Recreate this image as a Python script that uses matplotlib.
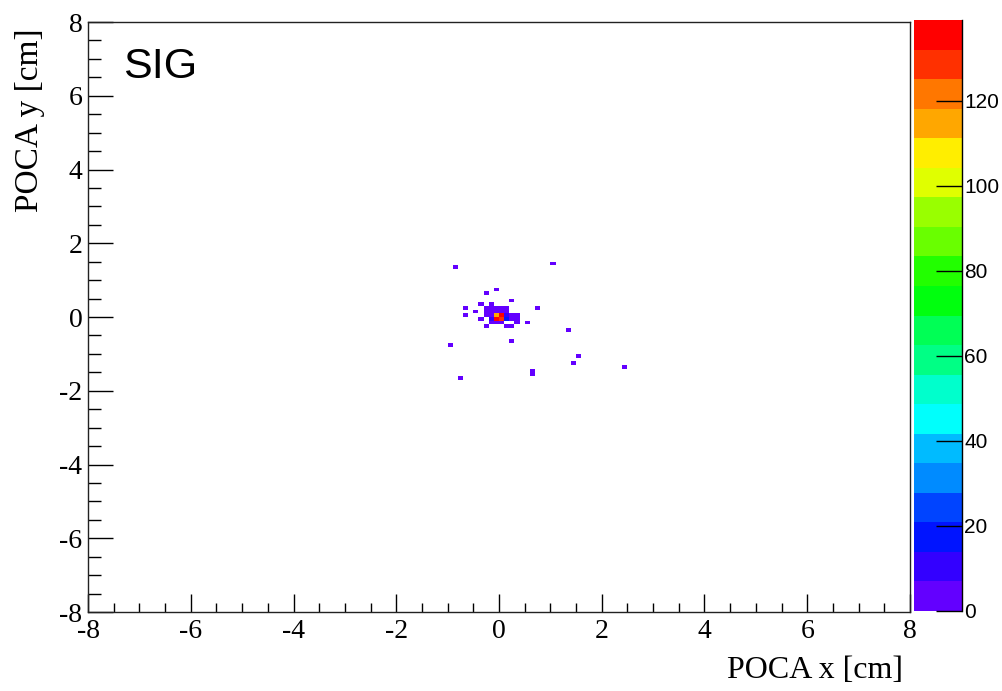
import colorsys
import numpy as np
import matplotlib
matplotlib.use("Agg")
import matplotlib.pyplot as plt
from matplotlib.colors import ListedColormap, BoundaryNorm
from matplotlib.ticker import MultipleLocator

# ---------------- data (bin centres in cm, bin contents) ----------------
x_centers = [
    # central cluster
    -0.25, -0.15, -0.05, 0.05, 0.15,
    -0.25, -0.15, -0.05, 0.05, 0.15,
    -0.25, -0.15, -0.05, 0.05, 0.15, 0.25, 0.35,
    -0.15, -0.05, 0.05, 0.15, 0.25, 0.35,
    -0.15, -0.05, 0.05, 0.35,
    0.15, 0.25,
    # scattered entries
    -0.85, 1.05, -0.25, -0.05, 0.25, -0.35, -0.15, -0.65, 0.75, -0.45,
    -0.65, -0.35, 0.55, -0.25, 0.25, 1.35, -0.95, 1.55, 1.45, 2.45,
    0.65, 0.65, -0.75,
]
y_centers = [
    0.25, 0.25, 0.25, 0.25, 0.25,
    0.15, 0.15, 0.15, 0.15, 0.15,
    0.05, 0.05, 0.05, 0.05, 0.05, 0.05, 0.05,
    -0.05, -0.05, -0.05, -0.05, -0.05, -0.05,
    -0.15, -0.15, -0.15, -0.15,
    -0.25, -0.25,
    1.35, 1.45, 0.65, 0.75, 0.45, 0.35, 0.35, 0.25, 0.25, 0.15,
    0.05, -0.05, -0.15, -0.25, -0.65, -0.35, -0.75, -1.05, -1.25, -1.35,
    -1.55, -1.45, -1.65,
]
counts = [
    3, 4, 5, 4, 2,
    2, 5, 6, 6, 4,
    3, 6, 115, 139, 10, 4, 2,
    12, 136, 130, 16, 5, 3,
    3, 5, 4, 2,
    2, 3,
    1, 1, 1, 2, 1, 2, 2, 1, 1, 2,
    1, 2, 1, 1, 1, 1, 1, 1, 1, 1,
    2, 1, 1,
]
x_range = (-8.0, 8.0)
y_range = (-8.0, 8.0)
n_bins = 160
z_max = 139.0
n_levels = 20
cbar_ticks = [0, 20, 40, 60, 80, 100, 120]
title_text = "SIG"
x_title = "POCA x [cm]"
y_title = "POCA y [cm]"

# ---------------- ROOT "pretty" palette (50 colours, HLS) ----------------
palette = []
for i in range(49):
    hue = 280.0 - (i + 1) * (280.0 / 50.0)
    palette.append(colorsys.hls_to_rgb(hue / 360.0, 0.5, 1.0))
palette.append((1.0, 0.0, 0.0))
level_colors = [palette[int((k + 0.99) * 50 / n_levels)] for k in range(n_levels)]
cmap = ListedColormap(level_colors)
cmap.set_over(level_colors[-1])
bounds = np.linspace(0.0, z_max, n_levels + 1)
norm = BoundaryNorm(bounds, cmap.N)

# ---------------- figure ----------------
plt.rcParams["axes.unicode_minus"] = False
W, H = 1003, 691
fig = plt.figure(figsize=(W / 100, H / 100), dpi=100)
ax = fig.add_axes([88 / W, 1 - 612 / H, 822 / W, 590 / H])
cax = fig.add_axes([914 / W, 1 - 611 / H, 48 / W, 591 / H])

xedges = np.linspace(x_range[0], x_range[1], n_bins + 1)
yedges = np.linspace(y_range[0], y_range[1], n_bins + 1)
hres = ax.hist2d(x_centers, y_centers, bins=[xedges, yedges], weights=counts,
                 cmin=0.5, cmap=cmap, norm=norm)

ax.set_xlim(*x_range)
ax.set_ylim(*y_range)
ax.xaxis.set_major_locator(MultipleLocator(2))
ax.xaxis.set_minor_locator(MultipleLocator(0.5))
ax.yaxis.set_major_locator(MultipleLocator(2))
ax.yaxis.set_minor_locator(MultipleLocator(0.5))
serif = "Liberation Serif"
ax.tick_params(axis="x", which="major", direction="in", length=13, width=1,
               pad=5, labelsize=20, top=False)
ax.tick_params(axis="x", which="minor", direction="in", length=6.5, width=1,
               top=False)
ax.tick_params(axis="y", which="major", direction="in", length=18, width=1,
               pad=4, labelsize=20, right=False)
ax.tick_params(axis="y", which="minor", direction="in", length=9, width=1,
               right=False)
for lab in ax.get_xticklabels() + ax.get_yticklabels():
    lab.set_fontfamily(serif)
for sp in ax.spines.values():
    sp.set_linewidth(1.0)
    sp.set_color("#222222")

fig.text(123 / W, 1 - 78 / H, title_text, fontsize=31,
         family="Liberation Sans", ha="left", va="baseline")

fig.text(903 / W, 1 - 671 / H, x_title, ha="right", va="center",
         fontsize=23, family=serif)
fig.text(30 / W, 1 - 28 / H, y_title, ha="center", va="top", rotation=90,
         fontsize=24, family=serif)

cb = fig.colorbar(hres[3], cax=cax, ticks=cbar_ticks, spacing="proportional")
cb.outline.set_visible(False)
cax.plot([1, 1], [0, 1], transform=cax.transAxes, color="black", lw=1,
         clip_on=False)
cax.yaxis.set_ticks_position("right")
cax.tick_params(axis="y", which="major", direction="in", length=18.5, width=1,
                pad=1.5, labelsize=15, colors="black")
cax.minorticks_off()
for lab in cax.get_yticklabels():
    lab.set_fontfamily("Liberation Sans")

fig.savefig("out.png", dpi=100)
